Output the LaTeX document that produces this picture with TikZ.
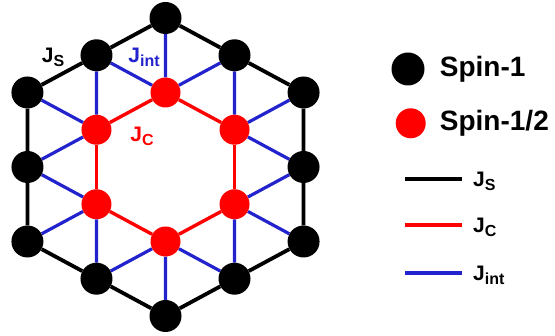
\documentclass[tikz,border=0pt]{standalone}
\usepackage{fontspec}
\setmainfont{Liberation Sans}
\usetikzlibrary{
  positioning,
  backgrounds
}
\definecolor{SpinRed}{RGB}{255, 0, 0}
\definecolor{BondBlue}{RGB}{35, 35, 205}
\tikzset{
  spinone/.style={circle, fill=black, minimum size=32pt, inner sep=0pt},
  spinhalf/.style={circle, fill=SpinRed, minimum size=30pt, inner sep=0pt},
  bondS/.style={draw=black, line width=3.8pt},
  bondC/.style={draw=SpinRed, line width=3.4pt},
  bondI/.style={draw=BondBlue, line width=3.2pt},
  legtext/.style={font=\fontsize{28}{32}\selectfont\bfseries, inner sep=0pt, anchor=west},
  jlabel/.style={font=\fontsize{21}{24}\selectfont\bfseries, inner sep=0pt}
}
\newcommand{\Jsub}[1]{J\raisebox{-0.2em}{\fontsize{16}{18}\selectfont #1}}

\begin{document}
\begin{tikzpicture}[x=1pt, y=1pt]
  \useasboundingbox (0,0) rectangle (555,336);

  % lattice: red hexagon inside, black ring of corners and edge midpoints
  \begin{scope}[shift={(165.5,169)}, xscale=1.07]
    \foreach \i in {0,...,5}{
      \node[spinhalf] (r\i) at ({90+60*\i}:74.5) {};
      \node[spinone] (c\i) at ({90+60*\i}:149) {};
      \node[spinone] (m\i) at ({120+60*\i}:129) {};
    }
  \end{scope}

  \begin{scope}[on background layer]
    \foreach \i in {0,...,5}{
      \pgfmathtruncatemacro\j{mod(\i+1,6)}
      \pgfmathtruncatemacro\k{mod(\i+5,6)}
      \draw[bondI] (r\i) -- (c\i) (r\i) -- (m\i) (r\i) -- (m\k);
      \draw[bondS] (c\i) -- (m\i) -- (c\j);
      \draw[bondC] (r\i) -- (r\j);
    }
  \end{scope}

  % bond labels
  \node[jlabel] (labS) at (53,279) {\Jsub{S}};
  \node[jlabel, text=BondBlue] (labI) at (144,279) {\Jsub{int}};
  \node[jlabel, text=SpinRed] (labC) at (142,200) {\Jsub{C}};

  % legend
  \node[spinone, minimum size=33pt] (lgone) at (408,267) {};
  \node[legtext, right=15pt of lgone] (txone) {Spin-1};
  \node[spinhalf] (lghalf) at (410.7,212.7) {};
  \node[legtext] (txhalf) at (txone.west |- lghalf) {Spin-1/2};

  \coordinate (sA) at (405,157);
  \coordinate (sB) at (462,157);
  \coordinate (cA) at (405,111);
  \coordinate (cB) at (462,111);
  \coordinate (iA) at (405,63);
  \coordinate (iB) at (462,63);
  \draw[bondS] (sA) -- (sB);
  \draw[bondC] (cA) -- (cB);
  \draw[bondI] (iA) -- (iB);
  \node[jlabel, anchor=base west] (lgS) at ([xshift=11pt, yshift=-7.5pt]sB) {\Jsub{S}};
  \node[jlabel, anchor=base west] (lgC) at ([xshift=11pt, yshift=-7.5pt]cB) {\Jsub{C}};
  \node[jlabel, anchor=base west] (lgI) at ([xshift=11pt, yshift=-7.5pt]iB) {\Jsub{int}};
\end{tikzpicture}
\end{document}
